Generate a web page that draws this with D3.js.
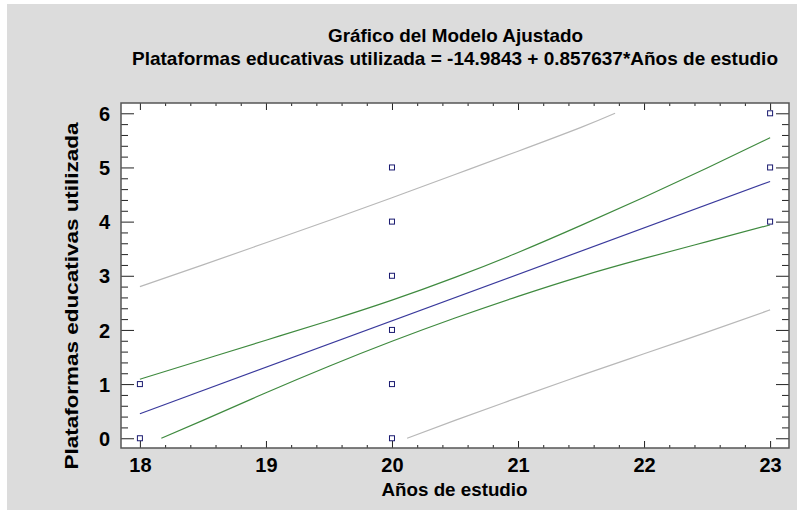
<!DOCTYPE html>
<html>
<head>
<meta charset="utf-8">
<script src="https://cdn.jsdelivr.net/npm/d3@7"></script>
<style>
  html, body { margin: 0; padding: 0; background: #ffffff; }
  svg { display: block; }
  text { font-family: "Liberation Sans", Arial, sans-serif; font-weight: bold; fill: #000; }
</style>
</head>
<body>
<svg id="chart" width="802" height="514"></svg>
<script>
// ---- data ----
const titleLine1 = "Gráfico del Modelo Ajustado";
const titleLine2 = "Plataformas educativas utilizada = -14.9843 + 0.857637*Años de estudio";
const xLabel = "Años de estudio";
const yLabel = "Plataformas educativas utilizada";

const xTicks = [18, 19, 20, 21, 22, 23];
const yTicks = [0, 1, 2, 3, 4, 5, 6];

// observations (Años de estudio, Plataformas)
const obsX = [18, 18, 20, 20, 20, 20, 20, 20, 23, 23, 23];
const obsY = [0, 1, 0, 1, 2, 3, 4, 5, 4, 5, 6];

// fitted line coefficients
const intercept = -14.9843;
const slope = 0.857637;
const fitX = [18, 23];

// confidence limits (green)
const confUpperX = [18, 18.5, 19, 19.5, 20, 20.5, 21, 21.5, 22, 22.5, 23];
const confUpperY = [1.09, 1.45, 1.81, 2.17, 2.55, 2.97, 3.43, 3.93, 4.45, 4.99, 5.55];
const confLowerX = [18.17, 18.5, 19, 19.5, 20, 20.5, 21, 21.5, 22, 22.5, 23];
const confLowerY = [0, 0.33, 0.84, 1.33, 1.79, 2.22, 2.62, 2.99, 3.32, 3.63, 3.94];

// prediction limits (gray)
const predUpperX = [18, 18.5, 19, 19.5, 20, 20.5, 21, 21.5, 21.77];
const predUpperY = [2.80, 3.20, 3.61, 4.02, 4.44, 4.87, 5.30, 5.74, 6.0];
const predLowerX = [20.12, 20.5, 21, 21.5, 22, 22.5, 23];
const predLowerY = [0, 0.33, 0.75, 1.16, 1.56, 1.96, 2.37];

// ---- drawing ----
const svg = d3.select("#chart");
const plot = { left: 121, right: 789, top: 103, bottom: 448 };
const FONT = "Liberation Sans, Arial, sans-serif";

svg.append("rect").attr("x", 7).attr("y", 4).attr("width", 790).attr("height", 506)
  .attr("fill", "#dcdcdc");

const x = d3.scaleLinear().domain([17.85, 23.15]).range([plot.left, plot.right]);
const y = d3.scaleLinear().domain([-0.18, 6.19]).range([plot.bottom, plot.top]);

svg.append("rect")
  .attr("x", plot.left).attr("y", plot.top)
  .attr("width", plot.right - plot.left).attr("height", plot.bottom - plot.top)
  .attr("fill", "#ffffff");

const xMinor = d3.range(18, 23.01, 0.2).map(v => +v.toFixed(2)).filter(v => Math.abs(v - Math.round(v)) > 1e-6);
const yMinor = d3.range(0, 6.01, 0.2).map(v => +v.toFixed(2)).filter(v => Math.abs(v - Math.round(v)) > 1e-6);

// bottom axis (ticks inward)
const gB = svg.append("g").attr("transform", `translate(0,${plot.bottom})`);
gB.call(d3.axisBottom(x).tickValues(xMinor).tickSize(-3).tickFormat(""));
gB.call(g => g.append("g").attr("class", "major").call(d3.axisBottom(x).tickValues(xTicks).tickSize(-7).tickFormat(d3.format("d"))));
// top axis
const gT = svg.append("g").attr("transform", `translate(0,${plot.top})`);
gT.call(d3.axisTop(x).tickValues(xMinor).tickSize(-3).tickFormat(""));
gT.call(g => g.append("g").call(d3.axisTop(x).tickValues(xTicks).tickSize(-7).tickFormat("")));
// left axis
const gL = svg.append("g").attr("transform", `translate(${plot.left},0)`);
gL.call(d3.axisLeft(y).tickValues(yMinor).tickSize(-7).tickFormat(""));
gL.call(g => g.append("g").attr("class", "major").call(d3.axisLeft(y).tickValues(yTicks).tickSize(-13).tickFormat(d3.format("d"))));
// right axis
const gR = svg.append("g").attr("transform", `translate(${plot.right},0)`);
gR.call(d3.axisRight(y).tickValues(yMinor).tickSize(-7).tickFormat(""));
gR.call(g => g.append("g").call(d3.axisRight(y).tickValues(yTicks).tickSize(-13).tickFormat("")));

svg.selectAll(".domain").remove();
svg.selectAll(".tick line").attr("stroke", "#222").attr("stroke-width", 1);

gB.selectAll(".major .tick text").attr("font-size", 20).attr("dy", 0).attr("y", 24)
  .attr("font-family", FONT).attr("font-weight", "bold").attr("fill", "#000");
gL.selectAll(".major .tick text").attr("font-size", 20).attr("x", -11).attr("dy", "0.36em")
  .attr("font-family", FONT).attr("font-weight", "bold").attr("fill", "#000");

// frame
svg.append("rect")
  .attr("x", plot.left).attr("y", plot.top)
  .attr("width", plot.right - plot.left).attr("height", plot.bottom - plot.top)
  .attr("fill", "none").attr("stroke", "#555").attr("stroke-width", 1.5);

// lines
const line = d3.line().x(d => x(d[0])).y(d => y(d[1])).curve(d3.curveNatural);
const zip = (a, b) => a.map((v, i) => [v, b[i]]);

const lines = svg.append("g");
lines.append("path").datum(zip(predUpperX, predUpperY)).attr("d", line)
  .attr("fill", "none").attr("stroke", "#b8b8b8").attr("stroke-width", 1.2);
lines.append("path").datum(zip(predLowerX, predLowerY)).attr("d", line)
  .attr("fill", "none").attr("stroke", "#b8b8b8").attr("stroke-width", 1.2);
lines.append("path").datum(zip(confUpperX, confUpperY)).attr("d", line)
  .attr("fill", "none").attr("stroke", "#3f8a3f").attr("stroke-width", 1.2);
lines.append("path").datum(zip(confLowerX, confLowerY)).attr("d", line)
  .attr("fill", "none").attr("stroke", "#3f8a3f").attr("stroke-width", 1.2);
lines.append("path").datum(fitX.map(v => [v, intercept + slope * v])).attr("d", d3.line().x(d => x(d[0])).y(d => y(d[1])))
  .attr("fill", "none").attr("stroke", "#3a3a9c").attr("stroke-width", 1.2);

// points
svg.append("g").selectAll("rect").data(zip(obsX, obsY)).join("rect")
  .attr("x", d => x(d[0]) - 2.5).attr("y", d => y(d[1]) - 2.5)
  .attr("width", 5).attr("height", 5)
  .attr("fill", "#fff").attr("stroke", "#1a1a70").attr("stroke-width", 1);

// titles
svg.append("text").attr("x", 455.5).attr("y", 42).attr("text-anchor", "middle")
  .attr("font-size", 18.5).attr("textLength", 255).attr("lengthAdjust", "spacingAndGlyphs")
  .text(titleLine1);
svg.append("text").attr("x", 455).attr("y", 65).attr("text-anchor", "middle")
  .attr("font-size", 18.5).attr("textLength", 646).attr("lengthAdjust", "spacingAndGlyphs")
  .text(titleLine2);

svg.append("text").attr("x", 454.5).attr("y", 496).attr("text-anchor", "middle")
  .attr("font-size", 18.5).attr("textLength", 146).attr("lengthAdjust", "spacingAndGlyphs")
  .text(xLabel);

svg.append("text").attr("transform", "translate(78,296) rotate(-90)").attr("text-anchor", "middle")
  .attr("font-size", 18.5).attr("textLength", 347).attr("lengthAdjust", "spacingAndGlyphs")
  .text(yLabel);
</script>
</body>
</html>
